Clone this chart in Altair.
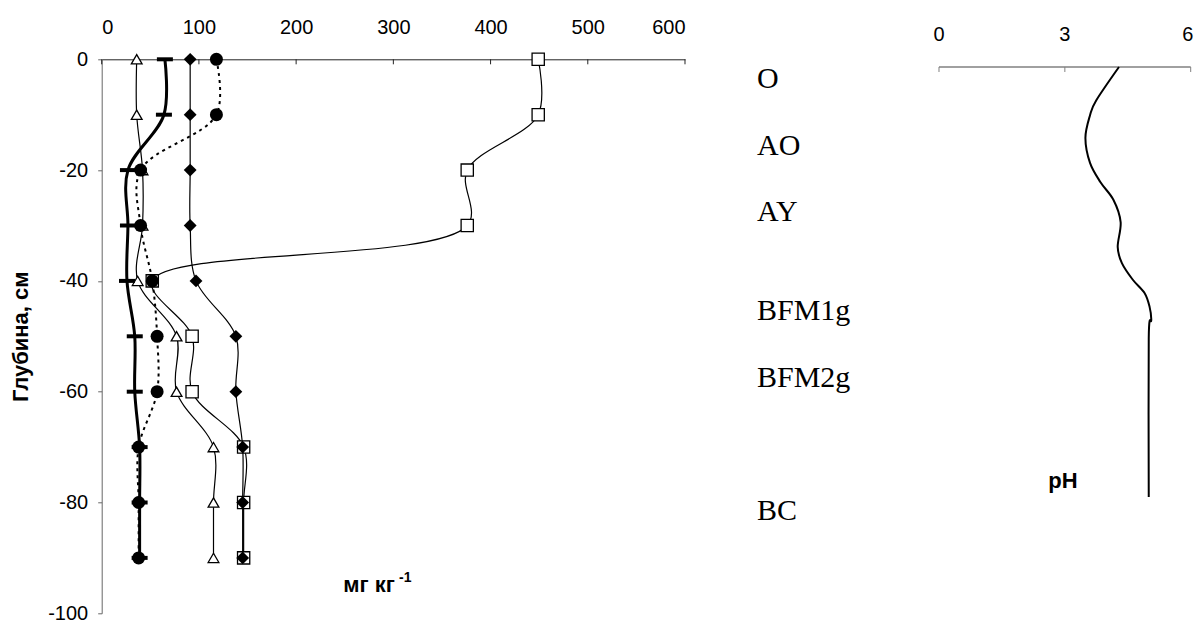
import altair as alt
import pandas as pd

# ---- data ----
depth = [0, -10, -20, -30, -40, -50, -60, -70, -80, -90]
triangle_vals = [36, 36, 42, 42, 37, 77, 77, 115, 115, 115]
thick_vals = [65, 64, 27, 27, 26, 34, 34, 39, 39, 39]
diamond_vals = [91, 91, 91, 91, 97, 138, 138, 145, 145, 145]
circle_vals = [118, 118, 40, 40, 52, 57, 57, 38, 38, 38]
square_vals = [449, 449, 376, 376, 52, 93, 93, 146, 146, 146]

ph_depth = [0, -6, -8.7, -12.8, -17.3, -20.8, -24, -28, -32.5, -35.4, -38.4,
            -40.8, -43.3, -45.7, -48.9, -77.6]
ph_vals = [4.29, 3.75, 3.60, 3.49, 3.60, 3.85, 4.16, 4.33, 4.26, 4.36, 4.62,
           4.90, 5.02, 5.06, 5.0, 5.0]

horizons = ["O", "AO", "AY", "BFM1g", "BFM2g", "BC"]
horizon_depth = [-5.2, -17.3, -29.2, -47.1, -59.1, -83.2]

x_ticks = [0, 100, 200, 300, 400, 500, 600]
y_ticks = [-100, -80, -60, -40, -20, 0]
ph_ticks = [0, 3, 6]

W, H = 583.3, 554
SANS = "Liberation Sans"
LBL = 20
BOLD = 22

xs = alt.Scale(domain=[0, 600], nice=False, zero=False)
ys = alt.Scale(domain=[-100, 0], nice=False, zero=False)
xaxis = alt.Axis(orient="top", values=x_ticks, labelFontSize=LBL, labelFont=SANS,
                 labelColor="black", ticks=False, tickSize=0, labelPadding=22,
                 domainColor="#222222", grid=False, title=None)
yaxis = alt.Axis(orient="left", values=y_ticks, labelFontSize=LBL, labelFont=SANS,
                 labelColor="black", tickSize=4, tickColor="#666666", labelPadding=10,
                 labelExpr="datum.value < 0 ? '-' + format(-datum.value, 'd') : format(datum.value, 'd')",
                 domainColor="#666666", grid=False, title="Глубина, см",
                 titleFont=SANS, titleFontSize=BOLD, titleFontWeight="bold",
                 titleColor="black", titleAngle=270, titleX=-81, titleY=277,
                 titleAlign="center", titleBaseline="middle")


def series_df(vals):
    return pd.DataFrame({"depth": depth, "v": vals})


def enc_x():
    return alt.X("v:Q", scale=xs, axis=xaxis)


def enc_y():
    return alt.Y("depth:Q", scale=ys, axis=yaxis)


order = alt.Order("depth:Q", sort="descending")


def series(vals, shape, size, fill, line_kw):
    d = series_df(vals)
    line = alt.Chart(d).mark_line(interpolate="catmull-rom", color="black", **line_kw).encode(
        x=enc_x(), y=enc_y(), order=order)
    kw = dict(shape=shape, size=size, opacity=1, stroke="black", filled=True, fill=fill,
              strokeWidth=0 if fill == "black" else 1.3)
    pts = alt.Chart(d).mark_point(**kw).encode(x=enc_x(), y=enc_y())
    return [line, pts]


bar_path = "M-1,-0.25H1V0.25H-1Z"

layers = []
# inward ticks for top axis
layers.append(alt.Chart(pd.DataFrame({"v": x_ticks})).mark_rule(color="#222222").encode(
    x=enc_x(), y=alt.value(0), y2=alt.value(5)))
layers += series(square_vals, "square", 150, "white", dict(strokeWidth=1.2))
layers += series(triangle_vals, "triangle-up", 115, "white", dict(strokeWidth=1.2))
layers += series(diamond_vals, "diamond", 165, "black", dict(strokeWidth=1.2))
layers += series(thick_vals, bar_path, 256, "black", dict(strokeWidth=3))
layers += series(circle_vals, "circle", 169, "black", dict(strokeWidth=2, strokeDash=[3, 4]))

# horizon labels
layers.append(alt.Chart(pd.DataFrame({"h": horizons, "depth": horizon_depth})).mark_text(
    font="Liberation Serif", fontSize=30, align="left", baseline="alphabetic", color="black"
).encode(x=alt.value(655.3), y=enc_y(), text="h:N"))

# x unit label
layers.append(alt.Chart(pd.DataFrame({"t": ["мг кг"]})).mark_text(
    font=SANS, fontSize=BOLD, fontWeight="bold", align="left", baseline="alphabetic", color="black"
).encode(x=alt.value(241.6), y=alt.value(533), text="t:N"))
layers.append(alt.Chart(pd.DataFrame({"t": ["-1"]})).mark_text(
    font=SANS, fontSize=14, fontWeight="bold", align="left", baseline="alphabetic", color="black"
).encode(x=alt.value(297.3), y=alt.value(522.4), text="t:N"))
# pH label
layers.append(alt.Chart(pd.DataFrame({"t": ["pH"]})).mark_text(
    font=SANS, fontSize=BOLD, fontWeight="bold", align="center", baseline="alphabetic", color="black"
).encode(x=alt.value(961.3), y=alt.value(428.7), text="t:N"))

left = alt.layer(*layers)

# ---- pH panel ----
phx = alt.Scale(domain=[0, 6], range=[837.3, 1089.0], nice=False, zero=False)
phy = alt.Scale(domain=[-100, 0], range=[561.7, 7.7], nice=False, zero=False)

ph_axis = alt.Chart(pd.DataFrame({"a": [0], "b": [6], "d": [0]})).mark_rule(
    color="#808080", strokeWidth=1.5).encode(
    x=alt.X("a:Q", scale=phx, axis=None), x2="b:Q",
    y=alt.Y("d:Q", scale=phy, axis=None))
ph_tk = alt.Chart(pd.DataFrame({"a": ph_ticks, "d": [0] * 3, "d2": [-0.9] * 3})).mark_rule(
    color="#808080", strokeWidth=1).encode(
    x=alt.X("a:Q", scale=phx, axis=None),
    y=alt.Y("d:Q", scale=phy, axis=None), y2="d2:Q")
ph_lab = alt.Chart(pd.DataFrame({"a": ph_ticks[:-1]})).mark_text(
    font=SANS, fontSize=LBL, align="center", baseline="alphabetic", color="black").encode(
    x=alt.X("a:Q", scale=phx, axis=None), y=alt.value(-18.3), text=alt.Text("a:Q", format="d"))
ph_lab_last = alt.Chart(pd.DataFrame({"a": ph_ticks[-1:]})).mark_text(
    font=SANS, fontSize=LBL, align="center", baseline="alphabetic", color="black", dx=-3).encode(
    x=alt.X("a:Q", scale=phx, axis=None), y=alt.value(-18.3), text=alt.Text("a:Q", format="d"))
ph_line = alt.Chart(pd.DataFrame({"ph": ph_vals, "d": ph_depth})).mark_line(
    interpolate="cardinal", color="black", strokeWidth=2).encode(
    x=alt.X("ph:Q", scale=phx, axis=None),
    y=alt.Y("d:Q", scale=phy, axis=None),
    order=alt.Order("d:Q", sort="descending"))

ph = alt.layer(ph_axis, ph_tk, ph_lab, ph_lab_last, ph_line)

chart = alt.layer(left, ph).resolve_scale(x="independent", y="independent").properties(
    width=W, height=H,
    autosize=alt.AutoSizeParams(type="none"),
    padding={"left": 93.7, "top": 51.3, "right": 509, "bottom": 12},
    background="white",
).configure_view(stroke=None)

chart.save("out.html", embed_options={"renderer": "svg", "actions": False})
